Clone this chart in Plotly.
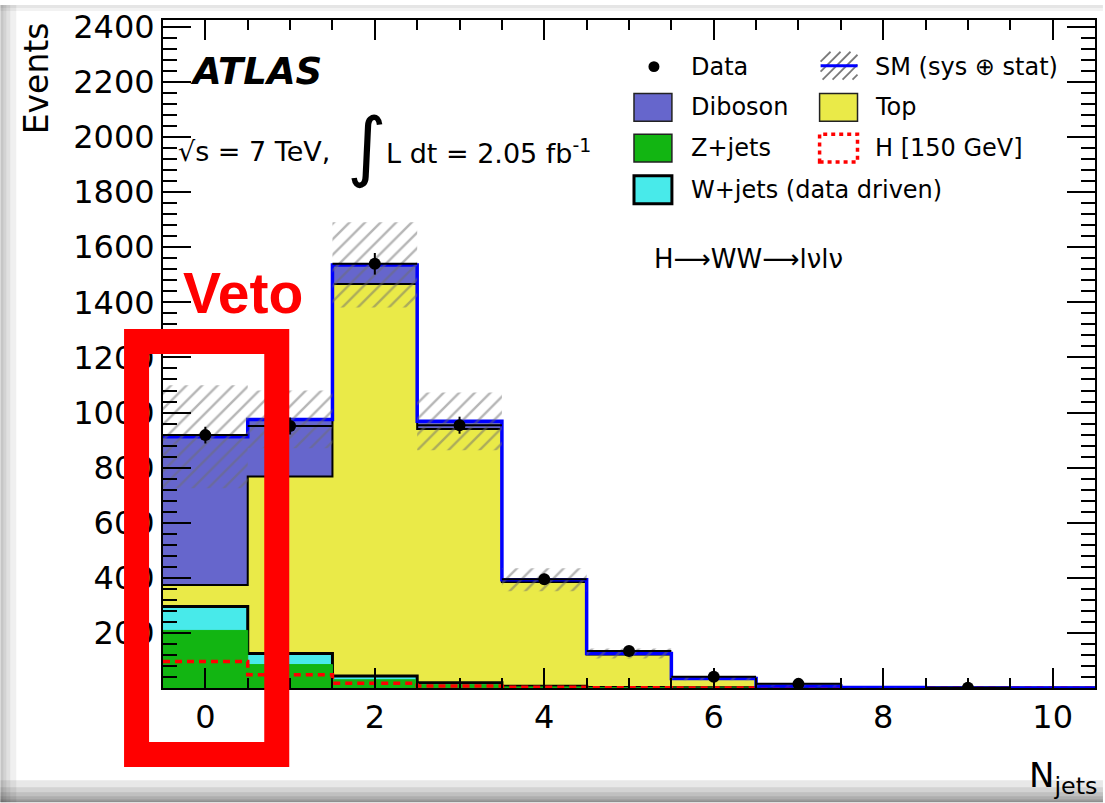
import numpy as np
import plotly.graph_objects as go

# ---- jet multiplicity bins (N_jets = 0 ... 10) ----
njets = np.arange(0, 11)
edges = np.arange(-0.5, 11.0, 1.0)

# ---- expected backgrounds per bin (events) ----
z_jets = [209, 85, 30, 12, 4, 1.2, 0.4, 0.1, 0.0, 0.0, 0.0]
w_jets = [87, 40, 14, 7, 2, 0.8, 0.3, 0.1, 0.0, 0.0, 0.0]
top = [78, 643, 1423, 921, 379, 120, 33, 6.5, 1.4, 0.4, 0.1]
diboson = [538, 207, 69, 28, 8, 3, 1, 0.3, 0.1, 0.0, 0.0]
higgs_150 = [96, 48, 17, 7, 2.5, 0.8, 0.3, 0.1, 0.05, 0.0, 0.0]
sm_uncert = [187, 105, 155, 105, 42, 18, 7, 2, 0.5, 0.2, 0.1]

# ---- observed data ----
data_njets = [0, 1, 2, 3, 4, 5, 6, 7, 9]
data_events = [918, 951, 1540, 954, 395, 134, 41, 15, 1]

# ---- axis ticks ----
x_tickvals = [0, 2, 4, 6, 8, 10]
y_tickvals = [200, 400, 600, 800, 1000, 1200, 1400, 1600, 1800, 2000, 2200, 2400]

# colours
C_DIB = "#6666CC"
C_TOP = "#EAEA48"
C_W = "#48EAEA"
C_Z = "#12B512"
FONT = "DejaVu Sans"

# frame of the plotting area in page pixels
L, R, T, B = 163, 1097, 15, 688
W_PAGE, H_PAGE = 1105, 803


def fx(x):
    return (x - L) / (R - L)


def fy(y):
    return (B - y) / (B - T)


def step(vals):
    v = np.asarray(vals, dtype=float)
    return np.append(v, v[-1])


c_z = np.asarray(z_jets, dtype=float)
c_w = c_z + np.asarray(w_jets)
c_top = c_w + np.asarray(top)
c_sm = c_top + np.asarray(diboson)
unc = np.asarray(sm_uncert, dtype=float)

fig = go.Figure()

# stacked backgrounds, drawn from the outermost layer inwards
for cum, col, lcol, lw in [
    (c_sm, C_DIB, "black", 1.5),
    (c_top, C_TOP, "black", 2),
    (c_w, C_W, "black", 3),
    (c_z, C_Z, C_Z, 1),
]:
    fig.add_trace(go.Scatter(
        x=edges, y=step(cum), mode="lines",
        line=dict(shape="hv", color=lcol, width=lw),
        fill="tozeroy", fillcolor=col, hoverinfo="skip"))

# Higgs signal (not stacked)
fig.add_trace(go.Scatter(
    x=edges, y=step(higgs_150), mode="lines",
    line=dict(shape="hv", color="#FF0000", width=3.5, dash="7px,5px"),
    hoverinfo="skip"))

# SM total
fig.add_trace(go.Scatter(
    x=edges, y=step(c_sm), mode="lines",
    line=dict(shape="hv", color="#0000FF", width=3.5), hoverinfo="skip"))

# hatched uncertainty band around the SM total
band_x, band_y = [], []
for i in range(len(njets)):
    band_x += [edges[i], edges[i + 1]]
    band_y += [c_sm[i] + unc[i]] * 2
for i in reversed(range(len(njets))):
    band_x += [edges[i + 1], edges[i]]
    band_y += [max(c_sm[i] - unc[i], 0.0)] * 2
fig.add_trace(go.Scatter(
    x=band_x, y=band_y, mode="lines", line=dict(width=0),
    fill="toself", fillcolor="rgba(0,0,0,0)",
    fillpattern=dict(shape="/", fgcolor="#6e6e6e", size=11, solidity=0.22),
    hoverinfo="skip"))

# data points
fig.add_trace(go.Scatter(
    x=data_njets, y=data_events, mode="markers",
    marker=dict(color="black", size=12),
    error_y=dict(type="data", array=np.sqrt(data_events), color="black",
                 thickness=2, width=0),
    error_x=dict(type="constant", value=0.5, color="black",
                 thickness=2, width=0),
    hoverinfo="skip"))

shapes = []
annotations = []

# ---- legend ----
LEG_TXT = dict(family=FONT, size=24, color="black")


def box(x0, y0, x1, y1, fill, lcol="#222222", lw=1.5, dash="solid"):
    shapes.append(dict(type="rect", xref="paper", yref="paper",
                       x0=fx(x0), x1=fx(x1), y0=fy(y1), y1=fy(y0),
                       fillcolor=fill, line=dict(color=lcol, width=lw, dash=dash)))


def label(x, y, text, **kw):
    d = dict(xref="paper", yref="paper", x=fx(x), y=fy(y), text=text,
             showarrow=False, xanchor="left", yanchor="middle", font=LEG_TXT)
    d.update(kw)
    annotations.append(d)


# Data
shapes.append(dict(type="circle", xref="paper", yref="paper",
                   x0=fx(649.5), x1=fx(660.5), y0=fy(67.5), y1=fy(56.5),
                   fillcolor="black", line=dict(color="black", width=0)))
label(690, 62, "Data")
# SM (sys + stat): hatching with a blue line
hx0, hx1, hy0, hy1 = 822, 859, 47, 75
bw, bh = hx1 - hx0, hy1 - hy0
for k in range(-bh, bw, 10):
    v0 = max(0, -k)
    v1 = min(bh, bw - k)
    if v1 <= v0:
        continue
    shapes.append(dict(type="line", xref="paper", yref="paper",
                       x0=fx(hx0 + v0 + k), y0=fy(hy1 - v0),
                       x1=fx(hx0 + v1 + k), y1=fy(hy1 - v1),
                       line=dict(color="#7a7a7a", width=1.8)))
shapes.append(dict(type="line", xref="paper", yref="paper",
                   x0=fx(hx0), x1=fx(hx1), y0=fy(61), y1=fy(61),
                   line=dict(color="#0000FF", width=3)))
label(875, 62, "SM (sys ⊕ stat)")
# Diboson / Top
box(635, 89, 673, 117, C_DIB)
label(690, 103, "Diboson")
box(821, 89, 859, 117, C_TOP)
label(875, 103, "Top")
# Z+jets / H
box(635, 130, 673, 158, C_Z)
label(690, 144, "Z+jets")
box(821, 130, 859, 158, "rgba(0,0,0,0)", lcol="#FF0000", lw=3.5, dash="4px,4px")
label(875, 144, "H [150 GeV]")
# W+jets
box(635, 172, 673, 200, C_W, lcol="black", lw=3)
label(690, 186, "W+jets (data driven)")

# ---- labels inside the frame ----
label(188, 67, "<b><i>ATLAS</i></b>", font=dict(family=FONT, size=37, color="black"))
label(176, 147, "√s = 7 TeV,", font=dict(family=FONT, size=27, color="black"))
label(367, 141, "∫", xanchor="center", font=dict(family=FONT, size=76, color="black"))
label(384, 147, "L dt = 2.05 fb<sup>-1</sup>", font=dict(family=FONT, size=27, color="black"))
label(653, 256, "H⟶WW⟶lνlν", font=dict(family=FONT, size=26, color="black"))

# axis titles
annotations.append(dict(xref="paper", yref="paper", x=fx(36), y=1.0,
                        text="Events", textangle=-90, showarrow=False,
                        xanchor="center", yanchor="top",
                        font=dict(family=FONT, size=33, color="black")))
annotations.append(dict(xref="paper", yref="paper", x=fx(1101), y=fy(778),
                        text="N<sub>jets</sub>", showarrow=False,
                        xanchor="right", yanchor="middle",
                        font=dict(family=FONT, size=34, color="black")))

# ---- jet-veto highlight ----
shapes.append(dict(type="rect", xref="paper", yref="paper",
                   x0=fx(136.5), x1=fx(277), y0=fy(755), y1=fy(339),
                   fillcolor="rgba(0,0,0,0)", line=dict(color="#FF0000", width=25)))
annotations.append(dict(xref="paper", yref="paper", x=fx(243), y=fy(290),
                        text="<b>Veto</b>", showarrow=False,
                        xanchor="center", yanchor="middle",
                        font=dict(family="Liberation Sans", size=57, color="#FF0000")))

# ---- soft drop shadow along the page border ----
for h in [22, 15, 10, 6, 3, 1.5]:
    shapes.append(dict(type="rect", xref="paper", yref="paper",
                       x0=fx(0), x1=fx(W_PAGE), y0=fy(H_PAGE), y1=fy(H_PAGE - h),
                       fillcolor="rgba(0,0,0,0.09)", line=dict(width=0)))
for w in [16, 10, 6, 3]:
    shapes.append(dict(type="rect", xref="paper", yref="paper",
                       x0=fx(0), x1=fx(w), y0=fy(H_PAGE), y1=fy(0),
                       fillcolor="rgba(0,0,0,0.06)", line=dict(width=0)))
for h in [6, 3]:
    shapes.append(dict(type="rect", xref="paper", yref="paper",
                       x0=fx(0), x1=fx(W_PAGE), y0=fy(h), y1=fy(0),
                       fillcolor="rgba(0,0,0,0.05)", line=dict(width=0)))

axis_common = dict(showline=True, linecolor="black", linewidth=2, mirror="ticks",
                   ticks="inside", tickcolor="black", tickwidth=2,
                   showgrid=False, zeroline=False,
                   tickfont=dict(family=FONT, size=32, color="black"))

fig.update_layout(
    width=W_PAGE, height=H_PAGE,
    margin=dict(l=L, r=W_PAGE - R, t=T, b=H_PAGE - B, pad=0),
    paper_bgcolor="white", plot_bgcolor="white",
    showlegend=False,
    shapes=shapes, annotations=annotations,
    xaxis=dict(range=[-0.5, 10.5], tickmode="array", tickvals=x_tickvals,
               ticktext=[str(v) for v in x_tickvals], ticklen=20,
               minor=dict(tickmode="linear", tick0=0, dtick=0.5, ticklen=10,
                          tickwidth=2, tickcolor="black", ticks="inside"),
               **axis_common),
    yaxis=dict(range=[0, 2425], tickmode="array", tickvals=y_tickvals,
               ticktext=[str(v) for v in y_tickvals], ticklen=28,
               minor=dict(tickmode="linear", tick0=0, dtick=40, ticklen=14,
                          tickwidth=2, tickcolor="black", ticks="inside"),
               **axis_common),
)

fig.write_html("out.html")
